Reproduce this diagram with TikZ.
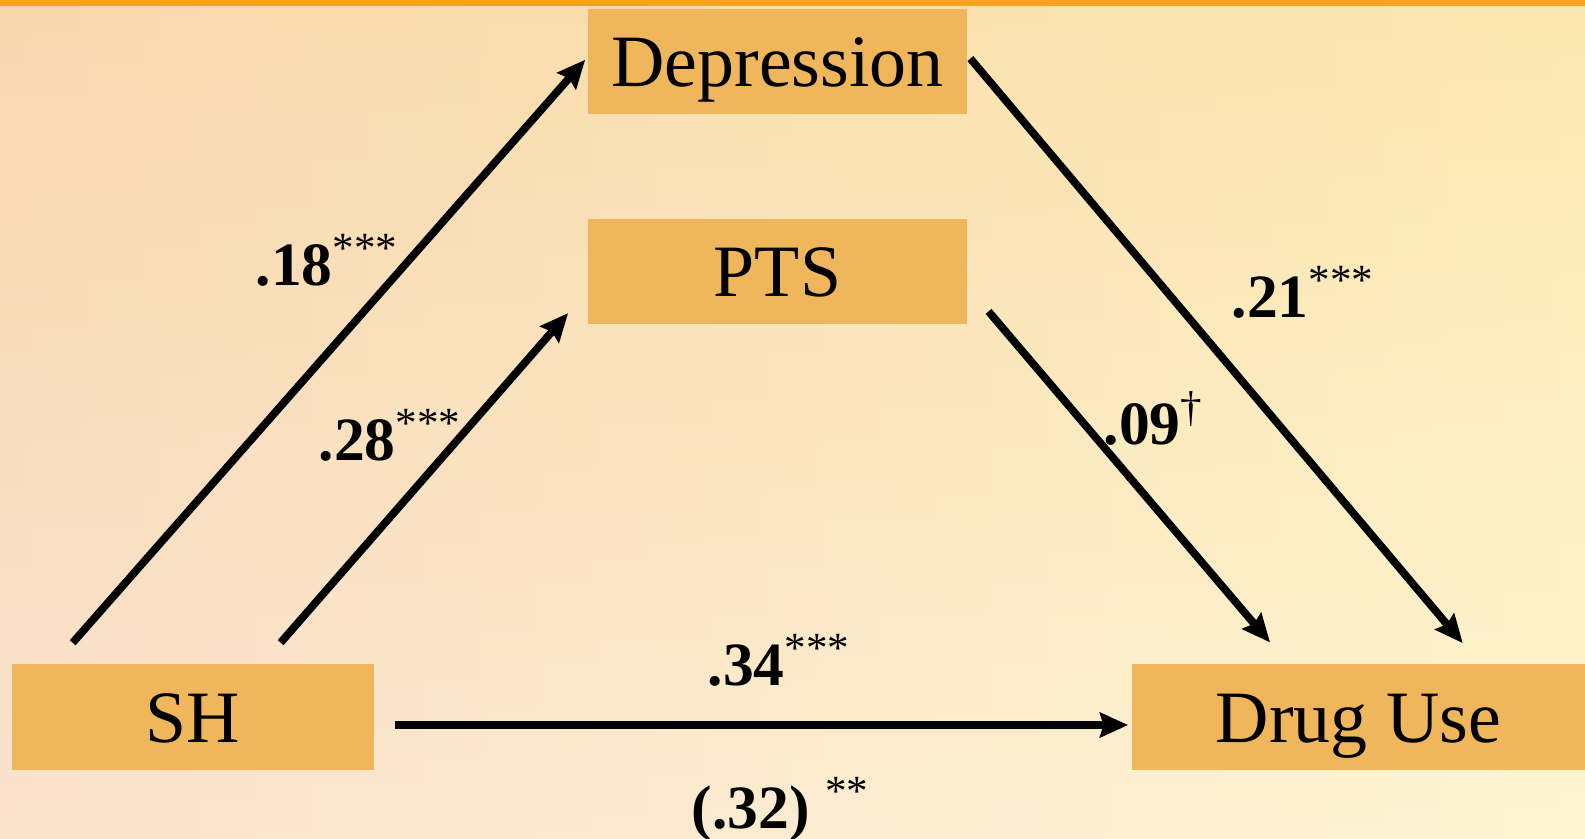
\documentclass[tikz,border=0pt]{standalone}
\usepackage{fontspec}
\setmainfont{Liberation Serif}
\usetikzlibrary{positioning, calc, arrows.meta}

\definecolor{boxorange}{RGB}{240,182,92}
\definecolor{topbar}{RGB}{247,162,32}
\definecolor{bgleft}{RGB}{248,212,182}
\definecolor{bgmid}{RGB}{255,251,232}
\definecolor{bgright}{RGB}{253,240,186}
\definecolor{bgtop}{RGB}{250,220,160}

\tikzset{
  var/.style={rectangle, fill=boxorange, inner sep=0pt, minimum height=1.05cm,
    text height=14.3pt, text depth=0pt, font=\fontsize{21}{25}\selectfont},
  link/.style={line width=2.2pt, -{Stealth[length=8pt, width=7pt, inset=1pt]}},
  coef/.style={anchor=base west, inner sep=0pt, font=\fontsize{17.5}{21}\selectfont\bfseries},
}
\newcommand{\sig}[1]{\textsuperscript{\mdseries #1}}

\begin{document}
\begin{tikzpicture}[x=0.01cm, y=-0.01cm]
    % background
    \useasboundingbox (0,0) rectangle (1585,838);
    \shade[left color=bgleft, middle color=bgmid, right color=bgright] (0,0) rectangle (1585,838);
    \shade[top color=bgtop, bottom color=white, opacity=0.35] (0,0) rectangle (1585,838);
    \fill[topbar] (0,0) rectangle (1585,6);

    \node (dep) [var, minimum width=3.79cm] at (777.5,61.5) {Depression};
    \node (pts) [var, minimum width=3.79cm, below=1.03cm of dep] {PTS};
    \node (sh) [var, minimum width=3.62cm] at (193,717) {SH};
    \node (drug) [var, minimum width=4.53cm] at (1358.5,717) {Drug Use};

    \draw [link, shorten <=0.28cm, shorten >=0.03cm] ($(sh.north west)+(43,0)$) -- ($(dep.west)+(0,-4)$);
    \draw [link, shorten <=0.28cm, shorten >=0.29cm] ($(sh.north west)+(251,0)$) -- ($(pts.south west)+(0,-33)$);
    \draw [link, shorten <=0.04cm, shorten >=0.27cm] ($(dep.east)+(0,-6)$) -- ($(drug.north west)+(349,0)$);
    \draw [link, shorten <=0.32cm, shorten >=0.28cm] ($(pts.east)+(0,16)$) -- ($(drug.north west)+(157,0)$);
    \draw [link, shorten <=0.2cm, shorten >=0.03cm] ($(sh.east)+(0,8)$) -- ($(drug.west)+(0,8)$);

    \node (c18) [coef] at (255,285) {.18\sig{***}};
    \node (c28) [coef] at (318,460) {.28\sig{***}};
    \node (c21) [coef] at (1231,317) {.21\sig{***}};
    \node (c09) [coef] at (1103,444) {.09\sig{†}};
    \node (c34) [coef] at (707,685) {.34\sig{***}};
    \node (c32) [coef] at (691,828) {(.32) \sig{**}};
\end{tikzpicture}
\end{document}
